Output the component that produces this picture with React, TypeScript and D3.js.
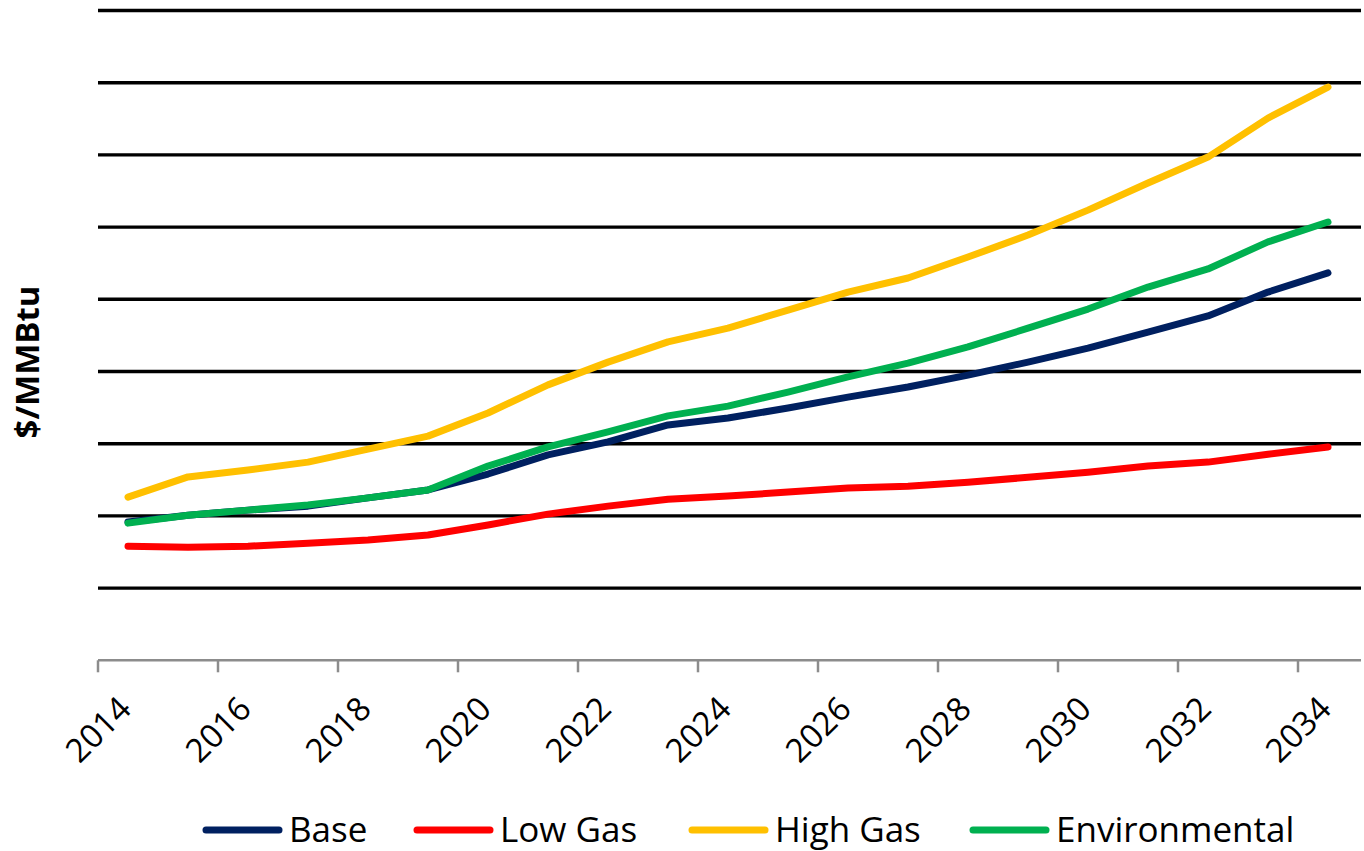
import React from "react";
import * as d3 from "d3";

const years = d3.range(2014, 2035).map(String);
const tickLabels = ["2014", "2016", "2018", "2020", "2022", "2024", "2026", "2028", "2030", "2032", "2034"];
const seriesNames = ["Base", "Low Gas", "High Gas", "Environmental"];
const seriesColors = ["#002060", "#ff0000", "#ffc000", "#00b050"];

const baseValues = [3.83, 4.02, 4.16, 4.27, 4.5, 4.72, 5.16, 5.69, 6.05, 6.52, 6.71, 6.99, 7.29, 7.57, 7.9, 8.26, 8.65, 9.09, 9.54, 10.2, 10.73];
const lowGasValues = [3.16, 3.13, 3.16, 3.24, 3.33, 3.47, 3.75, 4.05, 4.27, 4.46, 4.55, 4.66, 4.77, 4.82, 4.93, 5.07, 5.21, 5.38, 5.49, 5.71, 5.91];
const highGasValues = [4.52, 5.08, 5.27, 5.49, 5.85, 6.21, 6.85, 7.63, 8.26, 8.82, 9.2, 9.7, 10.2, 10.59, 11.17, 11.78, 12.47, 13.22, 13.94, 15.02, 15.88];
const environmentalValues = [3.8, 4.02, 4.16, 4.3, 4.5, 4.72, 5.38, 5.91, 6.33, 6.77, 7.04, 7.43, 7.85, 8.23, 8.68, 9.2, 9.73, 10.34, 10.84, 11.59, 12.14];
const yGridValues = [2, 4, 6, 8, 10, 12, 14, 16, 18];

const allSeries = [baseValues, lowGasValues, highGasValues, environmentalValues];

const W = 1364;
const H = 851;
const plot = { left: 98, right: 1358, top: 10.5, bottom: 660.3 };
const FONT = "'Open Sans', 'Noto Sans', sans-serif";
const legendStarts = [203, 414, 689, 970];

export default function App() {
  const x = d3.scaleBand<string>().domain(years).range([plot.left, plot.right]).paddingInner(0).paddingOuter(0);
  const cx = (yr: string) => (x(yr) as number) + x.bandwidth() / 2;
  const y = d3.scaleLinear().domain([0, 18]).range([plot.bottom, plot.top]);
  const line = d3
    .line<number>()
    .x((_, i) => cx(years[i]))
    .y((v) => y(v));

  const tickPositions = d3.range(0, years.length + 1, 2).map((i) => plot.left + i * x.bandwidth());

  const lineLen = 79;
  const textGap = 7;
  const legendY = 830;

  return (
    <svg width={W} height={H} style={{ position: "absolute", left: 0, top: 0, background: "#fff" }}>
      <rect width={W} height={H} fill="#fff" />
      {yGridValues.map((v) => (
        <line key={v} x1={plot.left} x2={1361} y1={y(v)} y2={y(v)} stroke="#000" strokeWidth={3.4} />
      ))}
      <line x1={plot.left} x2={1361} y1={y(0)} y2={y(0)} stroke="#8c8c8c" strokeWidth={2.5} />
      {tickPositions.map((tx, i) => (
        <line key={i} x1={tx} x2={tx} y1={y(0)} y2={y(0) + 12} stroke="#8c8c8c" strokeWidth={2.5} />
      ))}
      {tickLabels.map((lbl) => {
        const tx = cx(lbl) + 5;
        const ty = 711;
        return (
          <text
            key={lbl}
            x={tx}
            y={ty}
            transform={`rotate(-45 ${tx} ${ty})`}
            textAnchor="end"
            fontFamily={FONT}
            fontSize={33}
            fill="#000"
          >
            {lbl}
          </text>
        );
      })}
      <text
        x={0}
        y={0}
        transform={`translate(39 ${362}) rotate(-90)`}
        textAnchor="middle"
        fontFamily={FONT}
        fontWeight="bold"
        fontSize={33}
        fill="#000"
      >
        $/MMBtu
      </text>
      {allSeries.map((vals, i) => (
        <path
          key={seriesNames[i]}
          d={line(vals) || ""}
          fill="none"
          stroke={seriesColors[i]}
          strokeWidth={7}
          strokeLinecap="round"
          strokeLinejoin="round"
        />
      ))}
      {seriesNames.map((name, i) => {
        const sx = legendStarts[i];
        return (
          <g key={name}>
            <line
              x1={sx + 3}
              x2={sx + lineLen - 3}
              y1={legendY}
              y2={legendY}
              stroke={seriesColors[i]}
              strokeWidth={7}
              strokeLinecap="round"
            />
            <text
              x={sx + lineLen + textGap}
              y={legendY + 12}
              fontFamily={FONT}
              fontSize={35}
              fill="#000"
            >
              {name}
            </text>
          </g>
        );
      })}
    </svg>
  );
}
